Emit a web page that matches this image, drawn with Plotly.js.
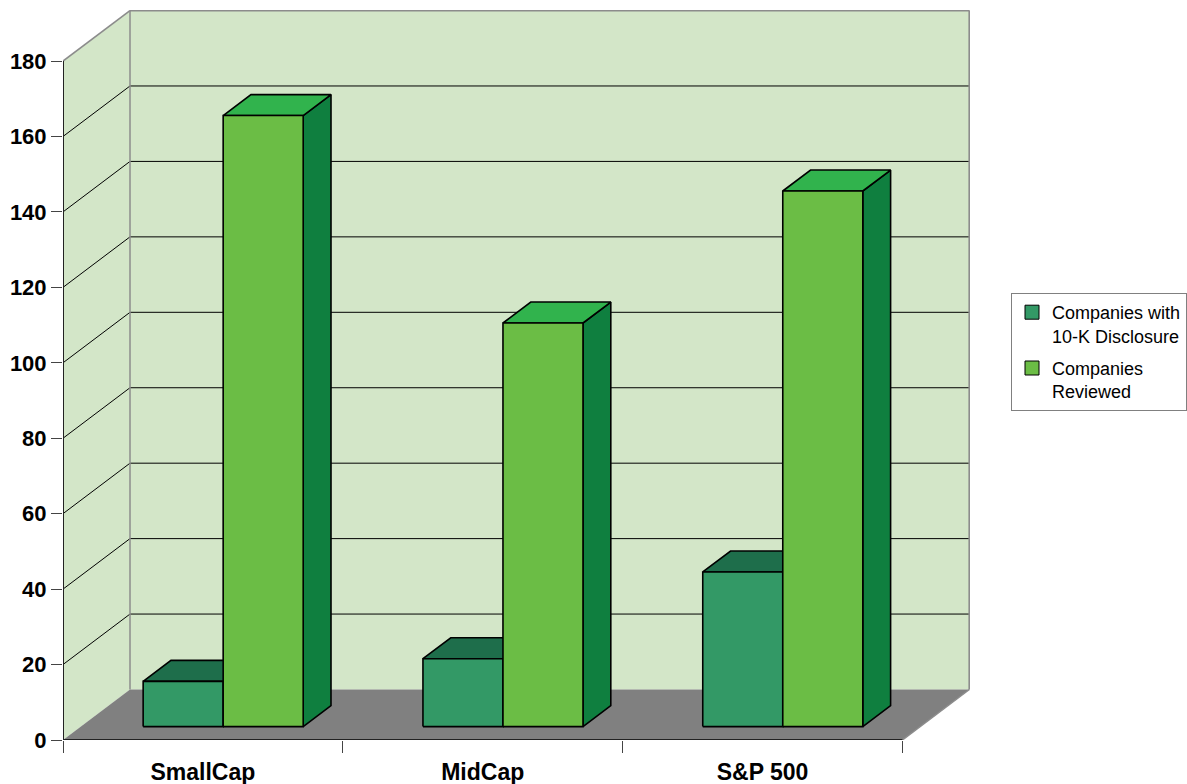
<!DOCTYPE html>
<html><head><meta charset="utf-8">
<script src="https://cdn.plot.ly/plotly-3.0.1.min.js"></script>
<style>html,body{margin:0;padding:0;background:#fff}</style>
</head><body>
<div id="chart" style="width:1187px;height:784px"></div>
<script>
// ---- data ----
const categories = ['SmallCap', 'MidCap', 'S&P 500'];
const disclosure = [12, 18, 41];     // Companies with 10-K Disclosure
const reviewed = [162, 107, 142];    // Companies Reviewed
const seriesNames = ['Companies with<br>10-K Disclosure', 'Companies<br>Reviewed'];
const yTicks = [0, 20, 40, 60, 80, 100, 120, 140, 160, 180];

// ---- style / projection ----
const FONT = 'Arial, "Liberation Sans", Helvetica, sans-serif';
const PXX = 279.8, PXY = 3.772;              // pixels per data unit
const DX = 67 / PXX, DY = 50.5 / PXY;        // full-depth oblique offset (data units)
const ZF = 0.265, ZB = 0.68;                 // bar front / back depth
const BW = 0.286, SHIFT = 0.009;             // bar width, center shift
const YMAX = 180;
const WALL = '#D3E6C8', FLOOR = '#808080', EDGE = '#8C8C8C';
const colors = [
  {front: '#339966', top: '#1E6E4B', side: '#1E6E4B'},
  {front: '#6BBD45', top: '#31B34D', side: '#0F7F3F'}
];
const P = (x, y, z) => [x + z * DX, y + z * DY];
const nCat = categories.length;

const traces = [];
function poly(pts, fill, lineColor, lw) {
  const xs = pts.map(p => p[0]), ys = pts.map(p => p[1]);
  xs.push(xs[0]); ys.push(ys[0]);
  traces.push({type: 'scatter', mode: 'lines', x: xs, y: ys, fill: fill ? 'toself' : 'none',
    fillcolor: fill || 'rgba(0,0,0,0)', line: {color: lineColor || 'rgba(0,0,0,0)', width: lw || 0},
    hoverinfo: 'skip', showlegend: false});
}
function seg(a, b, color, w) {
  traces.push({type: 'scatter', mode: 'lines', x: [a[0], b[0]], y: [a[1], b[1]],
    line: {color: color, width: w}, hoverinfo: 'skip', showlegend: false});
}

// walls and floor
poly([P(0, 0, 1), P(nCat, 0, 1), P(nCat, YMAX, 1), P(0, YMAX, 1)], WALL);
poly([P(0, 0, 0), P(0, 0, 1), P(0, YMAX, 1), P(0, YMAX, 0)], WALL);
poly([P(0, 0, 0), P(nCat, 0, 0), P(nCat, 0, 1), P(0, 0, 1)], FLOOR);
// gridlines
yTicks.filter(v => v > 0 && v < YMAX).forEach(v => {
  seg(P(0, v, 1), P(nCat, v, 1), '#000', 1);
  seg(P(0, v, 0), P(0, v, 1), '#000', 1);
});
// wall edges
seg(P(0, 0, 1), P(0, YMAX, 1), EDGE, 1.5);
seg(P(0, YMAX, 1), P(nCat, YMAX, 1), EDGE, 2);
seg(P(nCat, YMAX, 1), P(nCat, 0, 1), EDGE, 2);
seg(P(0, YMAX, 0), P(0, YMAX, 1), EDGE, 1.5);
seg(P(nCat, 0, 0), P(nCat, 0, 1), EDGE, 1.5);

// bars
function bar(x0, x1, v, c) {
  poly([P(x1, 0, ZF), P(x1, 0, ZB), P(x1, v, ZB), P(x1, v, ZF)], c.side, '#000', 1.6);
  poly([P(x0, v, ZF), P(x1, v, ZF), P(x1, v, ZB), P(x0, v, ZB)], c.top, '#000', 1.6);
  poly([P(x0, 0, ZF), P(x1, 0, ZF), P(x1, v, ZF), P(x0, v, ZF)], c.front, '#000', 1.6);
}
const series = [disclosure, reviewed];
categories.forEach((cat, i) => {
  const c = i + 0.5 + SHIFT;
  series.forEach((s, k) => {
    const x0 = c - BW + k * BW;
    bar(x0, x0 + BW, s[i], colors[k]);
  });
});

// front axis edges
seg(P(0, 0, 0), P(0, YMAX, 0), '#222', 2);
seg(P(0, 0, 0), P(nCat, 0, 0), '#222', 2);

// legend entries
series.forEach((s, k) => {
  traces.push({type: 'scatter', mode: 'markers', x: [null], y: [null], name: seriesNames[k],
    legendgroup: 'g' + k,
    marker: {symbol: 'square', size: 14, color: colors[k].front, line: {color: '#000', width: 1}},
    showlegend: true, hoverinfo: 'skip'});
});

const plotW = 1187 - 63 - 217, plotH = 784 - 10 - 44;
const layout = {
  width: 1187, height: 784,
  margin: {l: 63, r: 217, t: 10, b: 44, pad: 0, autoexpand: false},
  paper_bgcolor: '#fff', plot_bgcolor: 'rgba(0,0,0,0)',
  hovermode: false, dragmode: false,
  xaxis: {range: [0, plotW / PXX], showgrid: false, zeroline: false, showline: false,
    tickmode: 'array', tickvals: categories.map((c, i) => i + 0.5), ticktext: categories,
    ticks: '', ticklabelstandoff: 16, automargin: false,
    tickfont: {family: FONT, size: 23, color: '#000', weight: 'bold'},
    minor: {tickmode: 'array', tickvals: categories.map((c, i) => i).concat([nCat]),
      ticks: 'outside', ticklen: 12, tickwidth: 1, tickcolor: '#444', showgrid: false},
    fixedrange: true},
  yaxis: {range: [0, plotH / PXY], showgrid: false, zeroline: false, showline: false,
    tickmode: 'array', tickvals: yTicks, ticktext: yTicks.map(String), automargin: false,
    ticks: 'outside', ticklen: 11, tickwidth: 1, tickcolor: '#444',
    tickfont: {family: FONT, size: 22, color: '#000', weight: 'bold'},
    fixedrange: true},
  showlegend: true,
  legend: {x: (1011 - 63) / plotW, y: (740 - 293) / plotH, xanchor: 'left', yanchor: 'top',
    bgcolor: '#fff', bordercolor: '#808080', borderwidth: 1, valign: 'top', tracegroupgap: 6,
    font: {family: FONT, size: 18, color: '#000'}, itemclick: false, itemdoubleclick: false}
};
Plotly.newPlot('chart', traces, layout, {staticPlot: true, displayModeBar: false});
</script>
</body></html>
